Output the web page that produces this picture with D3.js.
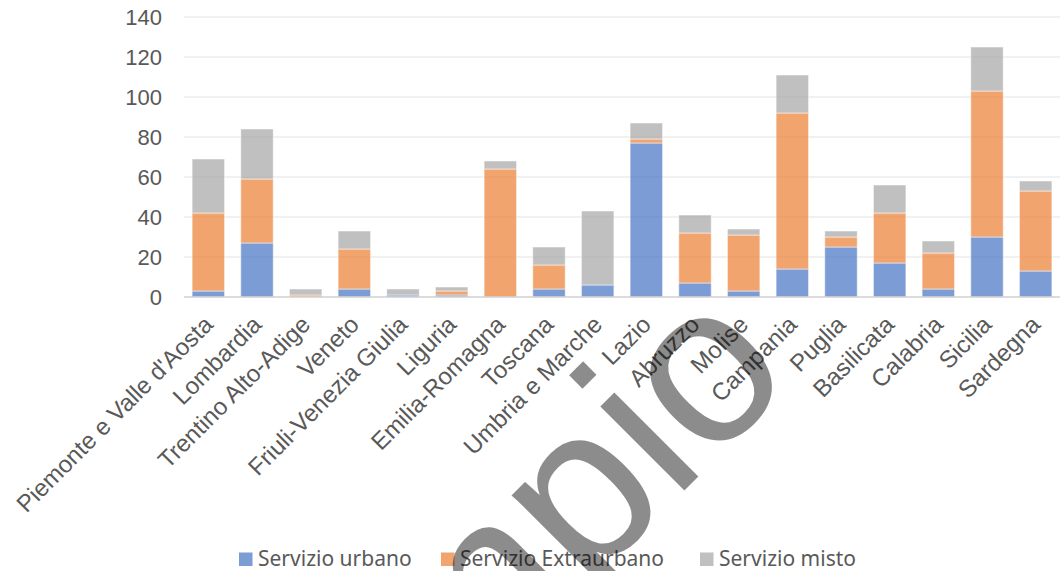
<!DOCTYPE html>
<html>
<head>
<meta charset="utf-8">
<script src="https://cdn.jsdelivr.net/npm/d3@7"></script>
<style>
  body { margin: 0; background: #fff; }
</style>
</head>
<body>
<div id="chart"></div>
<script>
let categories = [
    "Piemonte e Valle d'Aosta", "Lombardia", "Trentino Alto-Adige", "Veneto",
    "Friuli-Venezia Giulia", "Liguria", "Emilia-Romagna", "Toscana",
    "Umbria e Marche", "Lazio", "Abruzzo", "Molise", "Campania", "Puglia",
    "Basilicata", "Calabria", "Sicilia", "Sardegna"
];
let urbano      = [3, 27, 0, 4, 1, 1, 0, 4, 6, 77, 7, 3, 14, 25, 17, 4, 30, 13];
let extraurbano = [39, 32, 1, 20, 0, 2, 64, 12, 0, 2, 25, 28, 78, 5, 25, 18, 73, 40];
let misto       = [27, 25, 3, 9, 3, 2, 4, 9, 37, 8, 9, 3, 19, 3, 14, 6, 22, 5];
let series_names = ["Servizio urbano", "Servizio Extraurbano", "Servizio misto"];
let y_ticks = [0, 20, 40, 60, 80, 100, 120, 140];

let chart_width  = 1060;
let chart_height = 571;
let colors = ["#4472C4", "#ED7D31", "#A5A5A5"];

let rows = categories.map((c, i) => ({
    cat: c, s0: urbano[i], s1: extraurbano[i], s2: misto[i]
}));

//svg
let svg = d3.select("#chart")
            .append('svg')
            .attr('width', chart_width)
            .attr('height', chart_height);

//scales
let x_scale = d3.scaleBand()
        .domain(categories)
        .range([184, 1060])
        .paddingInner(0.333)
        .paddingOuter(0.1667);

let y_scale = d3.scaleLinear()
        .domain([0, 140])
        .range([297, 17]);

//grid
svg.append('g')
  .selectAll('line')
  .data(y_ticks.slice(1))
  .enter()
  .append('line')
  .attr('x1', 184)
  .attr('x2', 1060)
  .attr('y1', d => y_scale(d))
  .attr('y2', d => y_scale(d))
  .attr('stroke', '#ececec')
  .attr('stroke-width', 1.5);

//y axis labels
let y_axis = d3.axisLeft(y_scale)
                .tickValues(y_ticks)
                .tickSize(0)
                .tickPadding(0);

svg.append('g')
  .attr('class', 'y-axis')
  .attr('transform', 'translate(162,0)')
  .call(y_axis)
  .call(g => g.select('.domain').remove())
  .selectAll('text')
  .attr('font-family', 'Liberation Sans, Arial, sans-serif')
  .attr('font-size', 22)
  .attr('fill', '#595959');

//stacked bars
let stack = d3.stack().keys(['s0', 's1', 's2']);
let layers = stack(rows);

svg.append('g')
  .selectAll('g')
  .data(layers)
  .enter()
  .append('g')
  .attr('fill', (d, i) => colors[i])
  .attr('fill-opacity', 0.7)
  .selectAll('rect')
  .data(d => d)
  .enter()
  .append('rect')
  .attr('x', d => x_scale(d.data.cat))
  .attr('y', d => y_scale(d[1]))
  .attr('width', x_scale.bandwidth())
  .attr('height', d => y_scale(d[0]) - y_scale(d[1]))
  .attr('stroke', '#fff')
  .attr('stroke-opacity', 0.5)
  .attr('stroke-width', 1);

//x axis line
svg.append('line')
  .attr('x1', 184)
  .attr('x2', 1060)
  .attr('y1', y_scale(0))
  .attr('y2', y_scale(0))
  .attr('stroke', '#d0d0d0')
  .attr('stroke-width', 1.5);

//x labels
svg.append('g')
  .selectAll('text')
  .data(categories)
  .enter()
  .append('text')
  .text(d => d)
  .attr('transform', d => 'translate(' + (x_scale(d) + x_scale.bandwidth() / 2 + 6) + ',326) rotate(-45)')
  .attr('text-anchor', 'end')
  .attr('font-family', 'Liberation Sans, Arial, sans-serif')
  .attr('font-size', 24)
  .attr('fill', '#595959');

//legend
let legend_x = [239, 441, 700];
let legend = svg.append('g')
  .selectAll('g')
  .data(series_names)
  .enter()
  .append('g')
  .attr('transform', (d, i) => 'translate(' + legend_x[i] + ',552.5)');

legend.append('rect')
  .attr('width', 13.5)
  .attr('height', 13.5)
  .attr('fill', (d, i) => colors[i])
  .attr('fill-opacity', 0.7);

legend.append('text')
  .text(d => d)
  .attr('x', 19)
  .attr('y', 13.5)
  .attr('font-family', 'Noto Sans, Open Sans, sans-serif')
  .attr('font-size', 21)
  .attr('fill', '#595959');

//watermark
svg.append('text')
  .text('Esempio')
  .attr('transform', 'translate(797.5,377.5) rotate(-45)')
  .attr('text-anchor', 'end')
  .attr('font-family', 'Liberation Sans, Arial, sans-serif')
  .attr('font-size', 225)
  .attr('fill', '#000')
  .attr('fill-opacity', 0.45);
</script>
</body>
</html>
